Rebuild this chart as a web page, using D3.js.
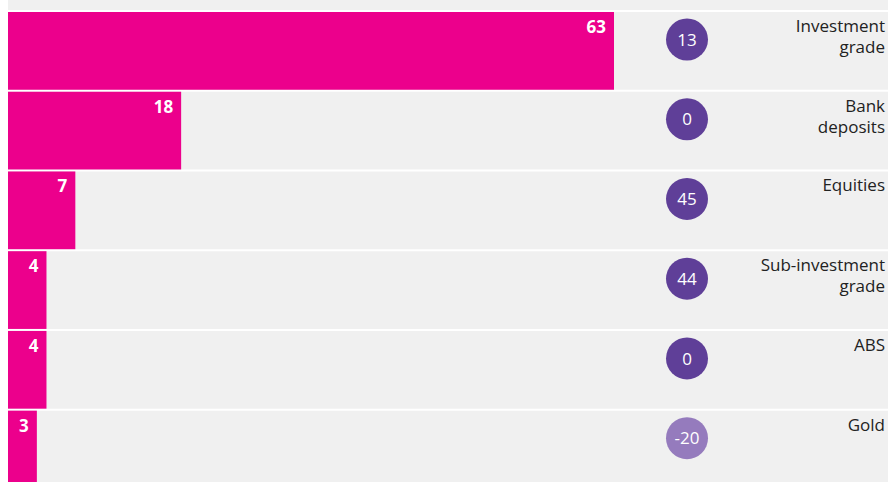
<!DOCTYPE html>
<html>
<head>
<meta charset="utf-8">
<script src="https://cdn.jsdelivr.net/npm/d3@7"></script>
<style>
  html, body { margin: 0; padding: 0; background: #ffffff; }
  svg { display: block; }
  text { font-family: "Open Sans", "Noto Sans", sans-serif; }
</style>
</head>
<body>
<svg id="chart" width="888" height="482"></svg>
<script>
// Asset classes, their share (bars) and the change shown in the circles
const categories = [
  ["Investment", "grade"],
  ["Bank", "deposits"],
  ["Equities"],
  ["Sub-investment", "grade"],
  ["ABS"],
  ["Gold"]
];
const shares = [63, 18, 7, 4, 4, 3];
const changes = [13, 0, 45, 44, 0, -20];

const W = 888, H = 482;
const marginLeft = 8, marginTop = 12;
const rowStep = 79.4;

const svg = d3.select("#chart");

// panel background
svg.append("rect")
  .attr("x", marginLeft).attr("y", 0)
  .attr("width", W - marginLeft).attr("height", H)
  .attr("fill", "#f0f0f0");

const ids = d3.range(categories.length);
const y = d3.scaleBand()
  .domain(ids)
  .range([marginTop, marginTop + rowStep * ids.length])
  .paddingInner(0.025)
  .paddingOuter(0);

const x = d3.scaleLinear()
  .domain([0, d3.max(shares)])
  .range([marginLeft, 614]);

// white separators between rows
svg.append("g").selectAll("line")
  .data(ids)
  .join("line")
  .attr("x1", marginLeft).attr("x2", W)
  .attr("y1", i => y(i) - 1).attr("y2", i => y(i) - 1)
  .attr("stroke", "#ffffff")
  .attr("stroke-width", 2);

// bars
svg.append("g").selectAll("rect")
  .data(ids)
  .join("rect")
  .attr("x", x(0))
  .attr("y", i => y(i))
  .attr("width", i => x(shares[i]) - x(0))
  .attr("height", y.bandwidth())
  .attr("fill", "#ec008c");

// bar value labels
svg.append("g").selectAll("text")
  .data(ids)
  .join("text")
  .attr("x", i => x(shares[i]) - 8)
  .attr("y", i => y(i) + 21)
  .attr("text-anchor", "end")
  .attr("fill", "#ffffff")
  .attr("font-size", 17)
  .attr("font-weight", 700)
  .text(i => shares[i]);

// change circles
const cx = 687;
const circ = svg.append("g").selectAll("g")
  .data(ids)
  .join("g")
  .attr("transform", i => `translate(${cx},${y(i) + 27.5})`);

circ.append("circle")
  .attr("r", 21)
  .attr("fill", i => changes[i] < 0 ? "#957bbd" : "#5f3f98");

circ.append("text")
  .attr("text-anchor", "middle")
  .attr("dy", "0.36em")
  .attr("fill", "#ffffff")
  .attr("font-size", 17)
  .attr("font-weight", 400)
  .text(i => changes[i]);

// category labels, right aligned
const lab = svg.append("g").selectAll("text")
  .data(ids)
  .join("text")
  .attr("x", 885)
  .attr("y", i => y(i) + 20)
  .attr("text-anchor", "end")
  .attr("fill", "#222222")
  .attr("font-size", 17);

lab.selectAll("tspan")
  .data(i => categories[i])
  .join("tspan")
  .attr("x", 885)
  .attr("dy", (d, j) => j === 0 ? 0 : 21)
  .text(d => d);
</script>
</body>
</html>
